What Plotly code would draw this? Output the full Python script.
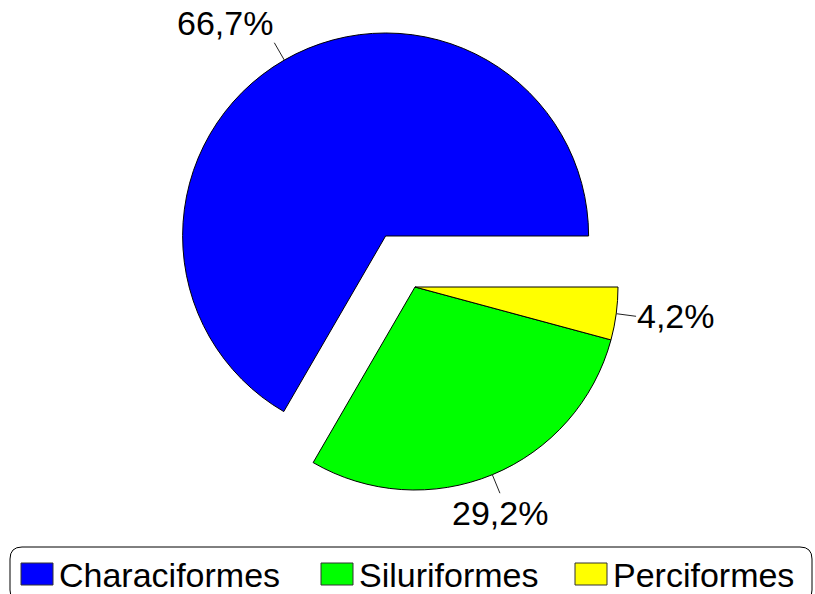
import math
import plotly.graph_objects as go

# data
labels = ["Characiformes", "Siluriformes", "Perciformes"]
values = [66.7, 29.2, 4.2]
colors = ["#0000FF", "#00FF00", "#FFFF00"]
pulls = [0.29, 0, 0]

W, H = 815, 594
FONT = "Liberation Sans, Arial, Helvetica, sans-serif"

# where the (unpulled) pie should sit, in pixels
CX, CY, R = 415, 287, 203
half = R * (1 + max(pulls))
dom_x = [(CX - half) / W, (CX + half) / W]
dom_y = [1 - (CY + half) / H, 1 - (CY - half) / H]

# counterclockwise in plotly: first slice ends at `rotation` (deg clockwise from 12h),
# so pick it so the first slice starts at 3 o'clock and runs counterclockwise
first_deg = values[0] / sum(values) * 360
rot = 90 - first_deg
if rot < -180:
    rot += 360

fig = go.Figure(go.Pie(
    labels=labels,
    values=values,
    marker=dict(colors=colors, line=dict(color="#000000", width=1)),
    pull=pulls,
    sort=False,
    direction="counterclockwise",
    rotation=rot,
    textinfo="none",
    hoverinfo="label+value",
    showlegend=False,
    domain=dict(x=dom_x, y=dom_y),
))

# percentage labels with short radial leader lines
LEAD = 20
total = sum(values)
start = 0.0
for v, p in zip(values, pulls):
    frac = v / total
    mid = math.radians((start + frac / 2) * 360)
    start += frac
    dist = R * (1 + p)
    tx = CX + dist * math.cos(mid)
    ty = CY - dist * math.sin(mid)
    c, s = math.cos(mid), math.sin(mid)
    xa = "left" if c > 0.55 else ("right" if c < -0.45 else "center")
    ya = "bottom" if s > 0.5 else ("top" if s < -0.5 else "middle")
    fig.add_annotation(
        x=tx / W, y=1 - ty / H, xref="paper", yref="paper",
        ax=LEAD * c, ay=-LEAD * s,
        text=f"{v:.1f}%".replace(".", ","),
        showarrow=True, arrowhead=0, arrowwidth=1, arrowcolor="#222222",
        standoff=0, startstandoff=0,
        xanchor=xa, yanchor=ya, borderpad=0,
        font=dict(family=FONT, size=34, color="#000000"),
    )

# legend drawn by hand so the swatches can be wide rectangles
def px(x):
    return x / W

def py(y):
    return 1 - y / H

bx0, bx1, by0, by1, rad = 10, 812, 547, 602, 12
path = (
    f"M{px(bx0 + rad)},{py(by0)} L{px(bx1 - rad)},{py(by0)} "
    f"Q{px(bx1)},{py(by0)} {px(bx1)},{py(by0 + rad)} "
    f"L{px(bx1)},{py(by1 - rad)} Q{px(bx1)},{py(by1)} {px(bx1 - rad)},{py(by1)} "
    f"L{px(bx0 + rad)},{py(by1)} Q{px(bx0)},{py(by1)} {px(bx0)},{py(by1 - rad)} "
    f"L{px(bx0)},{py(by0 + rad)} Q{px(bx0)},{py(by0)} {px(bx0 + rad)},{py(by0)} Z"
)
fig.add_shape(type="path", path=path, xref="paper", yref="paper",
              line=dict(color="#000000", width=1), fillcolor="rgba(0,0,0,0)")

legend_x = [21, 321, 575]
sw_w, sw_top, sw_bot = 32, 563, 585
for lab, col, lx in zip(labels, colors, legend_x):
    fig.add_shape(type="rect", xref="paper", yref="paper",
                  x0=px(lx), x1=px(lx + sw_w), y0=py(sw_bot), y1=py(sw_top),
                  fillcolor=col, line=dict(color="#333333", width=1))
    fig.add_annotation(x=px(lx + sw_w + 5), y=py((sw_top + sw_bot) / 2 + 1),
                       xref="paper", yref="paper", text=lab, showarrow=False,
                       xanchor="left", yanchor="middle", borderpad=0,
                       font=dict(family=FONT, size=34, color="#000000"))

fig.update_layout(
    width=W, height=H,
    margin=dict(l=0, r=0, t=0, b=0),
    paper_bgcolor="#FFFFFF",
    plot_bgcolor="#FFFFFF",
    font=dict(family=FONT),
)

# drop the browser's default 8px body margin so the figure fills the window
fig.write_html("out.html", config={"displayModeBar": False},
               post_script="document.body.style.margin='0';")
